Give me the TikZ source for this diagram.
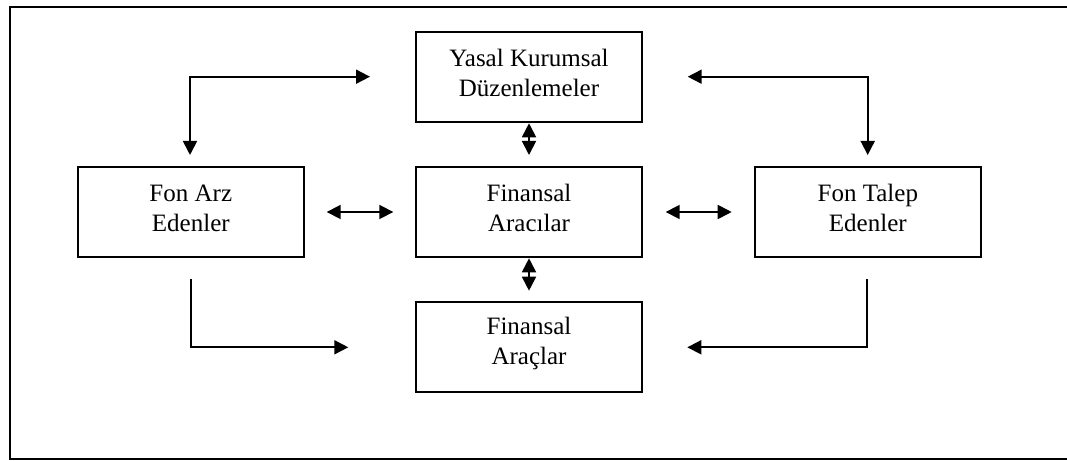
\documentclass[tikz,border=0pt]{standalone}
\usepackage{fontspec}
\setmainfont{Liberation Serif}
\usetikzlibrary{arrows.meta}
\begin{document}
\begin{tikzpicture}[x=1pt,y=1pt,
  box/.style={draw, line width=2pt, minimum width=226pt, minimum height=90pt, inner sep=0pt},
  lbl/.style={align=center, font=\fontsize{25}{30}\selectfont, inner sep=0pt},
  conn/.style={line width=1.8pt, arrows={-Triangle[length=14pt,width=14pt]}},
  dconn/.style={line width=1.8pt, arrows={Triangle[length=14pt,width=14pt]-Triangle[length=14pt,width=14pt]}}]
\useasboundingbox (0,0) rectangle (1067,460);
\draw[line width=2.2pt] (1067,453) -- (10,453) -- (10,0.7) -- (1067,0.7);
% boxes
\node[box] (yasal) at (529,383.3) {};
\node[box] (araci) at (529,248) {};
\node[box] (aracl) at (529,112.5) {};
\node[box] (arz) at (190.8,248) {};
\node[box] (talep) at (867.8,248) {};
% texts
\node[lbl] (tyasal) at ([yshift=4pt]yasal.center) {Yasal Kurumsal\\Düzenlemeler};
\node[lbl] (taraci) at ([yshift=4pt]araci.center) {Finansal\\Aracılar};
\node[lbl] (taracl) at ([yshift=4pt]aracl.center) {Finansal\\Araçlar};
\node[lbl] (tarz) at ([yshift=4pt]arz.center) {Fon Arz\\Edenler};
\node[lbl] (ttalep) at ([yshift=4pt]talep.center) {Fon Talep\\Edenler};
% connector end points
\coordinate (a1) at (190,305);
\coordinate (a2) at (370,383.3);
\coordinate (a3) at (867.7,305);
\coordinate (a4) at (687.7,383.3);
\coordinate (m1) at (326.7,248);
\coordinate (m2) at (393.3,248);
\coordinate (m3) at (665.7,248);
\coordinate (m4) at (731.7,248);
\coordinate (v1) at (529,336.7);
\coordinate (v2) at (529,305);
\coordinate (v3) at (529,201.7);
\coordinate (v4) at (529,169.3);
\coordinate (b1) at (190.7,180.7);
\coordinate (b2) at (348.3,112.7);
\coordinate (b3) at (867.3,180.7);
\coordinate (b4) at (687.3,112.7);
% connectors
\draw[dconn] (a1) |- (a2);
\draw[dconn] (a3) |- (a4);
\draw[dconn] (m1) -- (m2);
\draw[dconn] (m3) -- (m4);
\draw[dconn] (v1) -- (v2);
\draw[dconn] (v3) -- (v4);
\draw[conn] (b1) |- (b2);
\draw[conn] (b3) |- (b4);
\end{tikzpicture}
\end{document}
